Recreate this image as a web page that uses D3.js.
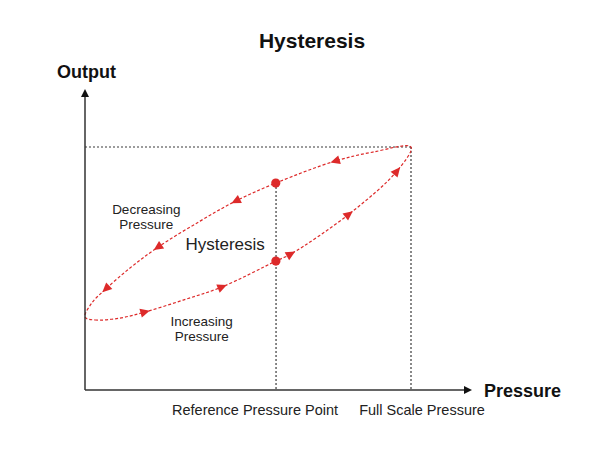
<!DOCTYPE html>
<html><head><meta charset="utf-8">
<script src="https://cdn.jsdelivr.net/npm/d3@7"></script>
<style>body{margin:0;background:#fff;} svg{display:block;font-family:"Liberation Sans",Arial,sans-serif;}</style>
</head><body><svg id="c" width="600" height="449"></svg>
<script>
// ---- data (pressure % of full scale, output % of full scale) ----
const refPressure = 58.6;
const fullScale = 100;
const increasingPressure = [0, 3.1, 10.7, 18.4, 30.1, 42.0, 58.6, 63.2, 81.0, 95.7, 100];
const increasingOutput   = [30.0, 28.8, 29.6, 32.1, 37.0, 42.4, 53.1, 56.0, 72.4, 90.1, 100];
const decreasingPressure = [100, 88.3, 76.7, 58.6, 46.3, 35.3, 22.4, 13.8, 6.4, 2.1, 0];
const decreasingOutput   = [100, 97.9, 94.2, 85.2, 77.8, 69.5, 58.8, 50.2, 41.6, 35.8, 30.0];
const increasingArrows = [18.4, 42.0, 63.2, 81.0, 95.7];
const decreasingArrows = [76.7, 46.3, 22.4, 6.4];
const tickValues = [58.6, 100];
const tickLabels = ["Reference Pressure Point", "Full Scale Pressure"];
const curveLabels = [
  {lines: ["Decreasing", "Pressure"], p: 18.8, o: 72.6, size: 13.5},
  {lines: ["Hysteresis"], p: 43, o: 57.8, size: 17},
  {lines: ["Increasing", "Pressure"], p: 35.8, o: 26.5, size: 13.5}
];

const RED = "#dd2a2a";
const svg = d3.select("#c");
const x = d3.scaleLinear().domain([0, 100]).range([85, 411]);
const y = d3.scaleLinear().domain([0, 100]).range([390, 147]);

// title
svg.append("text").attr("x", 312).attr("y", 48).attr("text-anchor", "middle")
  .attr("font-size", 21).attr("font-weight", "bold").attr("fill", "#111").text("Hysteresis");

// reference dashed lines
const dashG = svg.append("g").attr("stroke", "#3a3a3a").attr("stroke-width", 1.2).attr("stroke-dasharray", "2,2").attr("fill", "none");
dashG.append("line").attr("x1", x(0)).attr("x2", x(fullScale)).attr("y1", y(fullScale)).attr("y2", y(fullScale));
dashG.append("line").attr("x1", x(fullScale)).attr("x2", x(fullScale)).attr("y1", y(fullScale)).attr("y2", y(0));

// loop path
const inc = increasingPressure.map((p, i) => [p, increasingOutput[i]]);
const dec = decreasingPressure.map((p, i) => [p, decreasingOutput[i]]);
const loop = inc.concat(dec.slice(1, dec.length - 1));
const line = d3.line().x(d => x(d[0])).y(d => y(d[1])).curve(d3.curveCatmullRomClosed.alpha(0.5));
const loopPath = svg.append("path").attr("d", line(loop)).attr("fill", "none")
  .attr("stroke", RED).attr("stroke-width", 1.2).attr("stroke-dasharray", "3,2");

// sample path
const node = loopPath.node();
const total = node.getTotalLength();
const N = 1200;
const samples = d3.range(N + 1).map(i => node.getPointAtLength(total * i / N));
let maxIdx = d3.maxIndex(samples, s => s.x);
function findOn(pressure, lo, hi) {
  const px = x(pressure);
  let best = lo, bd = Infinity;
  for (let i = lo; i <= hi; i++) { const d = Math.abs(samples[i].x - px); if (d < bd) { bd = d; best = i; } }
  return best;
}
function drawArrow(idx) {
  const a = samples[Math.max(0, idx - 3)], b = samples[Math.min(N, idx + 3)];
  const ang = Math.atan2(b.y - a.y, b.x - a.x) * 180 / Math.PI;
  svg.append("path").attr("d", "M5,0 L-4.5,-4.5 L-4.5,4.5 Z").attr("fill", RED)
    .attr("transform", `translate(${samples[idx].x},${samples[idx].y}) rotate(${ang})`);
}
increasingArrows.forEach(p => drawArrow(findOn(p, 0, maxIdx)));
decreasingArrows.forEach(p => drawArrow(findOn(p, maxIdx, N)));

// reference pressure dots and vertical line
const upIdx = findOn(refPressure, maxIdx, N), loIdx = findOn(refPressure, 0, maxIdx);
dashG.append("line").attr("x1", x(refPressure)).attr("x2", x(refPressure)).attr("y1", samples[upIdx].y).attr("y2", y(0));
[upIdx, loIdx].forEach(i => svg.append("circle").attr("cx", samples[i].x).attr("cy", samples[i].y).attr("r", 4.6).attr("fill", RED));

// axes
const axG = svg.append("g");
axG.append("line").attr("x1", x(0)).attr("x2", x(0)).attr("y1", y(0)).attr("y2", 96).attr("stroke", "#333").attr("stroke-width", 1.5);
axG.append("path").attr("d", `M${x(0)},89 L${x(0) - 4},97 L${x(0) + 4},97 Z`).attr("fill", "#111");
axG.append("line").attr("x1", x(0)).attr("x2", 465).attr("y1", y(0)).attr("y2", y(0)).attr("stroke", "#333").attr("stroke-width", 1.5);
axG.append("path").attr("d", `M472,${y(0)} L464,${y(0) - 4} L464,${y(0) + 4} Z`).attr("fill", "#111");

svg.append("text").attr("x", 57).attr("y", 78).attr("font-size", 18).attr("font-weight", "bold").attr("fill", "#111").text("Output");
svg.append("text").attr("x", 484).attr("y", 397).attr("font-size", 18).attr("font-weight", "bold").attr("fill", "#111").text("Pressure");

// tick labels
const tickDx = [-21, 11];
tickValues.forEach((v, i) => {
  svg.append("text").attr("x", x(v) + tickDx[i]).attr("y", 415).attr("text-anchor", "middle")
    .attr("font-size", 14.5).attr("fill", "#222").text(tickLabels[i]);
});

// curve labels (one text element per line)
curveLabels.forEach(l => {
  l.lines.forEach((s, j) => svg.append("text").attr("text-anchor", "middle")
    .attr("font-size", l.size).attr("fill", "#222")
    .attr("x", x(l.p)).attr("y", y(l.o) + j * 15).text(s));
});
</script></body></html>
